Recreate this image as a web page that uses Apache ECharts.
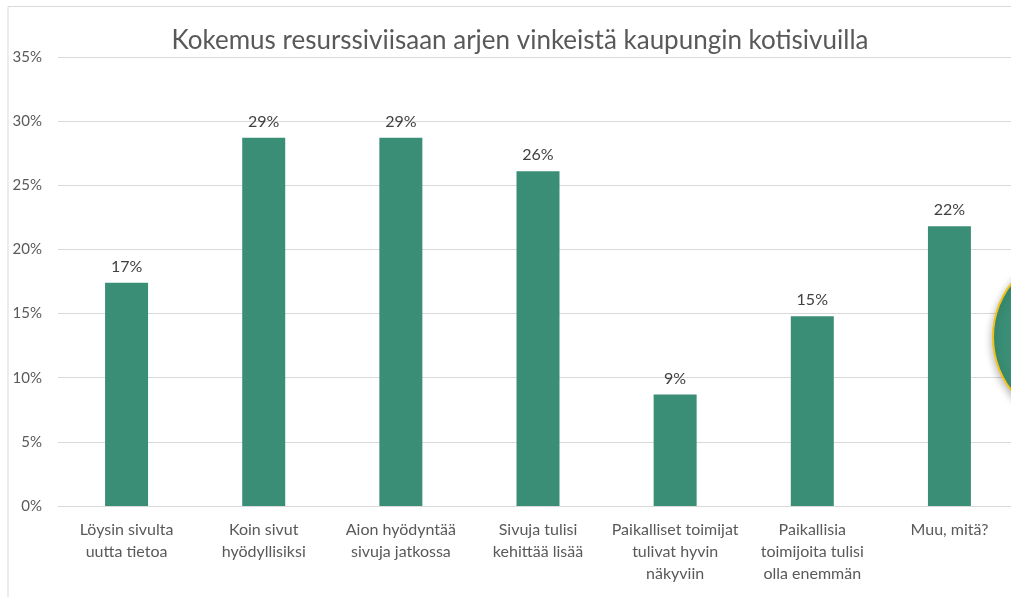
<!DOCTYPE html>
<html>
<head>
<meta charset="utf-8">
<script src="https://cdn.jsdelivr.net/npm/echarts@6/dist/echarts.min.js"></script>
<style>
  html, body { margin: 0; padding: 0; background: #fff; overflow: hidden; }
  #chart { width: 1020px; height: 597px; }
</style>
</head>
<body>
<div id="chart"></div>
<script>
const categories = [
  'Löysin sivulta\nuutta tietoa',
  'Koin sivut\nhyödyllisiksi',
  'Aion hyödyntää\nsivuja jatkossa',
  'Sivuja tulisi\nkehittää lisää',
  'Paikalliset toimijat\ntulivat hyvin\nnäkyviin',
  'Paikallisia\ntoimijoita tulisi\nolla enemmän',
  'Muu, mitä?'
]
const values = [0.174, 0.287, 0.287, 0.261, 0.087, 0.148, 0.218]
const yTicks = { min: 0, max: 0.35, interval: 0.05 }

const barColor = '#3a8e75'
const textColor = '#595959'

// the chart area runs a little past the right edge of the window
const chart = echarts.init(document.getElementById('chart'))

chart.setOption({
  animation: false,
  title: {
    text: 'Kokemus resurssiviisaan arjen vinkeistä kaupungin kotisivuilla',
    left: 515,
    textAlign: 'center',
    top: 23,
    textStyle: { fontFamily: 'Lato', fontSize: 26, fontWeight: 'normal', color: textColor }
  },
  grid: { left: 58, top: 57, width: 960, height: 449 },
  xAxis: {
    type: 'category',
    data: categories,
    axisLine: { lineStyle: { color: '#d9d9d9' } },
    axisTick: { show: false },
    axisLabel: {
      interval: 0,
      margin: 13,
      color: textColor,
      fontFamily: 'Lato',
      fontSize: 16,
      lineHeight: 22
    }
  },
  yAxis: {
    type: 'value',
    min: yTicks.min,
    max: yTicks.max,
    interval: yTicks.interval,
    axisLine: { show: false },
    axisTick: { show: false },
    splitLine: { lineStyle: { color: '#d9d9d9' } },
    axisLabel: {
      margin: 16,
      color: textColor,
      fontFamily: 'Lato',
      fontSize: 15,
      formatter: v => Math.round(v * 100) + '%'
    }
  },
  series: [{
    type: 'bar',
    data: values,
    barWidth: 43,
    itemStyle: { color: barColor },
    label: {
      show: true,
      position: 'top',
      distance: 8,
      color: '#404040',
      fontFamily: 'Lato',
      fontSize: 16,
      formatter: p => Math.round(p.value * 100) + '%'
    }
  }],
  graphic: [
    {
      type: 'polyline',
      shape: { points: [[8, 597], [8, 6.5], [1020, 6.5]] },
      style: { stroke: '#d9d9d9', lineWidth: 1, fill: null }
    },
    {
      type: 'circle',
      shape: { cx: 1080, cy: 337, r: 87 },
      style: {
        fill: barColor,
        stroke: '#f2c21b',
        lineWidth: 2,
        shadowBlur: 8,
        shadowColor: 'rgba(0,0,0,0.3)',
        shadowOffsetY: 3
      },
      z: 100
    }
  ]
})
</script>
</body>
</html>
